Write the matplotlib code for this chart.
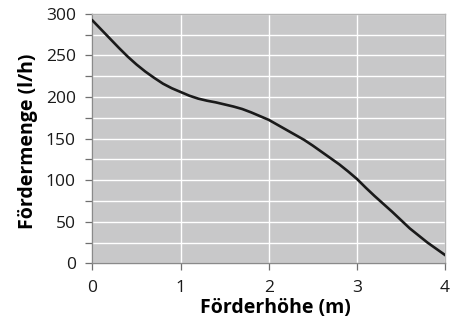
import numpy as np
import matplotlib.pyplot as plt
from matplotlib.ticker import MultipleLocator

# Förderhöhe (m) und Fördermenge (l/h)
hoehe = [0.0, 0.1, 0.2, 0.3, 0.4, 0.5, 0.6, 0.7, 0.8, 0.9, 1.0,
         1.1, 1.2, 1.3, 1.4, 1.5, 1.6, 1.7, 1.8, 1.9, 2.0,
         2.1, 2.2, 2.3, 2.4, 2.5, 2.6, 2.7, 2.8, 2.9, 3.0,
         3.1, 3.2, 3.3, 3.4, 3.5, 3.6, 3.7, 3.8, 3.9, 4.0]
menge = [292, 281, 270, 259, 248.5, 239, 230.5, 223, 216, 210.5, 206,
         201.5, 198, 195.5, 193.5, 191, 188.5, 185.5, 181.5, 177, 172.5,
         166.5, 160.5, 154.5, 148.5, 141.5, 134, 126.5, 119, 110.5, 101.5,
         91, 81, 71.5, 62, 52, 42, 33.5, 25, 17.5, 10]

y_labels = [0, 50, 100, 150, 200, 250, 300]
x_labels = [0, 1, 2, 3, 4]

plt.rcParams['font.family'] = ['Open Sans', 'DejaVu Sans']

fig = plt.figure(figsize=(4.59, 3.17), dpi=100)
ax = fig.add_axes([0.2015, 0.1694, 0.768, 0.787])
ax.set_facecolor('#c8c8c9')

ax.plot(hoehe, menge, color='#1a1a1a', lw=1.9, solid_joinstyle='round', zorder=3)

ax.set_xlim(0, 4)
ax.set_ylim(0, 300)
ax.set_xticks(x_labels)
ax.set_yticks(y_labels)
ax.yaxis.set_minor_locator(MultipleLocator(25))

ax.grid(True, which='both', color='white', lw=1.0, zorder=1)
ax.set_axisbelow(True)

ax.tick_params(axis='both', which='both', direction='out', length=5,
               width=0.9, color='#707070', labelsize=12.5, labelcolor='#1a1a1a')
ax.tick_params(axis='y', pad=7)
ax.tick_params(axis='x', pad=7)

for side in ['left', 'bottom']:
    ax.spines[side].set_color('#8a8a8a')
    ax.spines[side].set_linewidth(1.0)
for side in ['top', 'right']:
    ax.spines[side].set_color('#b4b4b4')
    ax.spines[side].set_linewidth(1.0)

ax.set_xlabel('Förderhöhe (m)', fontsize=14, fontweight='bold')
ax.set_ylabel('Fördermenge (l/h)', fontsize=14, fontweight='bold')
ax.xaxis.set_label_coords(0.52, -0.138)
ax.yaxis.set_label_coords(-0.155, 0.49)

fig.savefig('out.png', dpi=100)
